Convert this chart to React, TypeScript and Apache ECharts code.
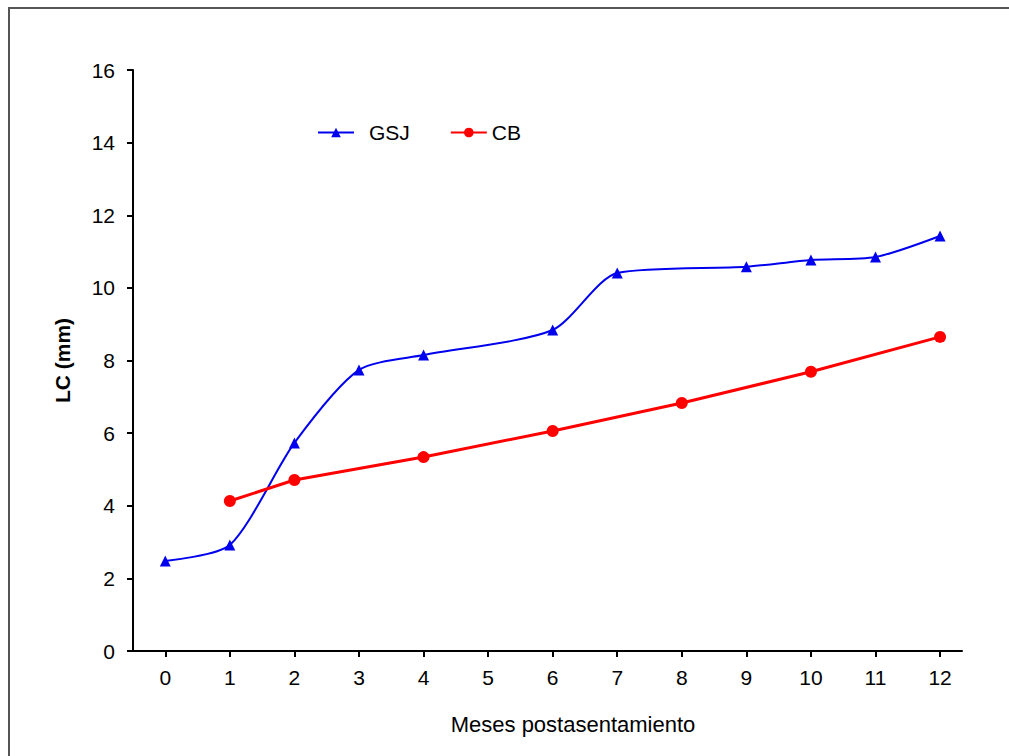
import React, { useEffect, useRef } from "react";
import * as echarts from "echarts";

const months = [0, 1, 2, 3, 4, 5, 6, 7, 8, 9, 10, 11, 12];
const yTicks = [0, 2, 4, 6, 8, 10, 12, 14, 16];
const gsjMonths = [0, 1, 2, 3, 4, 6, 7, 9, 10, 11, 12];
const gsjValues = [2.48, 2.92, 5.73, 7.74, 8.15, 8.84, 10.41, 10.58, 10.77, 10.85, 11.43];
const cbMonths = [1, 2, 4, 6, 8, 10, 12];
const cbValues = [4.13, 4.71, 5.34, 6.06, 6.83, 7.69, 8.65];

const FONT = "Arial, 'Liberation Sans', sans-serif";

export default function App() {
  const ref = useRef<HTMLDivElement>(null);
  useEffect(() => {
    if (!ref.current) return;
    const chart = echarts.init(ref.current, undefined, { renderer: "svg" });
    chart.setOption({
      animation: false,
      backgroundColor: "#ffffff",
      textStyle: { fontFamily: FONT },
      grid: { left: 133, top: 70, right: 47, bottom: 105, containLabel: false },
      legend: {
        left: 312,
        top: 117,
        itemWidth: 36,
        itemHeight: 12,
        itemGap: 40,
        textStyle: { fontSize: 21, color: "#000", fontFamily: FONT },
        data: [
          { name: "GSJ", textStyle: { padding: [0, 0, 0, 10] } },
          { name: "CB" },
        ],
      },
      xAxis: {
        type: "value",
        min: -0.5,
        max: 12.34,
        splitLine: { show: false },
        axisLine: { show: true, onZero: false, lineStyle: { color: "#000", width: 2 } },
        axisTick: {
          show: true,
          length: 6,
          lineStyle: { color: "#000", width: 2 },
          customValues: months,
        },
        axisLabel: {
          fontSize: 21,
          color: "#000",
          margin: 16,
          fontFamily: FONT,
          customValues: months,
        },
      },
      yAxis: {
        type: "value",
        min: 0,
        max: 16,
        interval: 2,
        name: "LC (mm)",
        nameLocation: "middle",
        nameGap: 60,
        nameTextStyle: { fontSize: 21, fontWeight: "bold", color: "#000", fontFamily: FONT },
        splitLine: { show: false },
        axisLine: { show: true, onZero: false, lineStyle: { color: "#000", width: 2 } },
        axisTick: { show: true, length: 6, lineStyle: { color: "#000", width: 2 } },
        axisLabel: {
          fontSize: 21,
          color: "#000",
          margin: 18,
          fontFamily: FONT,
          customValues: yTicks,
        },
      },
      graphic: [
        {
          type: "rect",
          shape: { x: 9, y: 8, width: 1012, height: 762 },
          style: { fill: "none", stroke: "#555", lineWidth: 2 },
          silent: true,
        },
        {
          type: "text",
          x: 573,
          y: 724,
          style: {
            text: "Meses postasentamiento",
            font: "22px " + FONT,
            fill: "#000",
            align: "center",
            verticalAlign: "middle",
          },
        },
      ],
      series: [
        {
          name: "GSJ",
          type: "line",
          smooth: 0.25,
          data: gsjMonths.map((m, i) => [m, gsjValues[i]]),
          symbol: "triangle",
          symbolSize: 11,
          lineStyle: { color: "#0000ee", width: 2 },
          itemStyle: { color: "#0000ee" },
        },
        {
          name: "CB",
          type: "line",
          data: cbMonths.map((m, i) => [m, cbValues[i]]),
          symbol: "circle",
          symbolSize: 12,
          lineStyle: { color: "#ff0000", width: 3 },
          itemStyle: { color: "#ff0000" },
        },
      ],
    });
    return () => chart.dispose();
  }, []);
  return (
    <div
      ref={ref}
      style={{ position: "fixed", left: 0, top: 0, width: 1009, height: 756 }}
    />
  );
}
